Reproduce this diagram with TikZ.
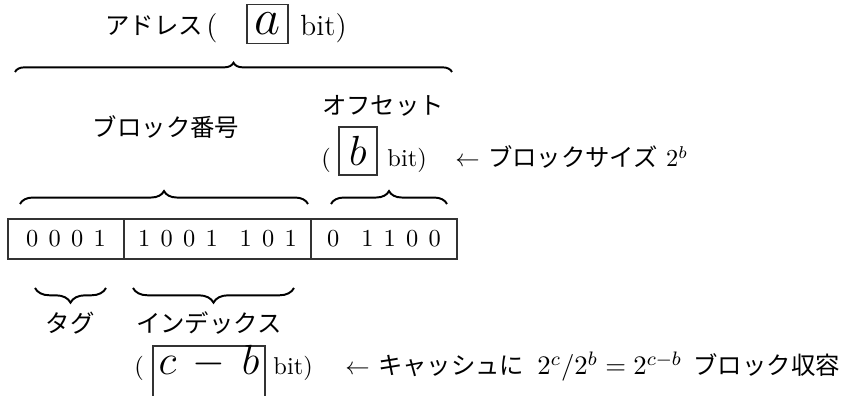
\documentclass[tikz,border=0pt]{standalone}
\usepackage{fontspec}
\newfontfamily\cjk{Noto Sans CJK JP}
\usetikzlibrary{decorations.pathreplacing}
\newcommand{\dgap}{\hspace{4.2pt}}
\newcommand{\dgapw}{\hspace{9pt}}
\begin{document}
\begin{tikzpicture}[x=0.41pt,y=-0.41pt,
  jlbl/.style={inner sep=0pt, anchor=base, font=\cjk},
  jlblw/.style={inner sep=0pt, anchor=base west, font=\cjk},
  tlbl/.style={inner sep=0pt, anchor=base},
  tlblw/.style={inner sep=0pt, anchor=base west},
  varbox/.style={draw=black!80, line width=0.45pt, inner sep=0pt, font=\LARGE},
  bigvar/.style={inner sep=0pt, font=\LARGE},
  cellbox/.style={draw=black!80, line width=0.45pt, inner sep=0pt, minimum height=16.4pt},
  bracedraw/.style={decorate, line width=0.8pt},
]
\useasboundingbox (0,0) rectangle (844,396);

% --- address line
\node[jlbl] (addr) at (154,35) {アドレス};
\node[tlbl, font=\large] (lpa) at (212,36) {(};
\node[varbox, font=\huge, minimum width=16.81pt, minimum height=16pt] (abox) at (267.5,24) {$a$};
\node[tlblw, font=\large] (bita) at (300,36) {bit)};
\draw[bracedraw, decoration={brace, amplitude=3.8pt}] (15,72) -- (452,72);

% --- block number / offset labels
\node[jlbl] (bnum) at (166,137) {ブロック番号};
\node[jlbl] (offs) at (383,115) {オフセット};
\node[tlbl] (lpb) at (326,167) {(};
\node[varbox, minimum width=15.58pt, minimum height=19.68pt] (bbox) at (358,151) {$b$};
\node[tlblw] (bitb) at (387,167) {bit)};
\node[tlblw] (bsize) at (455,167) {$\leftarrow$ {\cjk ブロックサイズ} $2^b$};

\draw[bracedraw, decoration={brace, amplitude=5.3pt}] (20,204) -- (308,204);
\draw[bracedraw, decoration={brace, amplitude=5.3pt}] (331,204) -- (447,204);

% --- address bits
\node[cellbox, minimum width=47.56pt] (tagc) at (66,239) {0\dgap0\dgap0\dgap1};
\node[cellbox, minimum width=76.67pt] (idxc) at (217.5,239) {1\dgap0\dgap0\dgap1\dgapw1\dgap0\dgap1};
\node[cellbox, minimum width=59.86pt] (offc) at (384,239) {0\dgapw1\dgap1\dgap0\dgap0};

% --- tag / index braces
\draw[bracedraw, decoration={brace, amplitude=6pt}] (106,288) -- (35,288);
\draw[bracedraw, decoration={brace, amplitude=6pt}] (294,288) -- (133,288);
\node[jlbl] (tagl) at (70,333) {タグ};
\node[jlbl] (idxl) at (209,333) {インデックス};

% --- index bits line
\node[tlbl] (lpc) at (139,375) {(};
\node[varbox, minimum width=45.92pt, minimum height=23.78pt] (cbbox) at (209,375) {};
\node[bigvar, anchor=base] (cbval) at (209,375) {$c\,-\,b$};
\node[tlblw] (bitc) at (273,375) {bit)};
\node[tlblw] (cache) at (345,375) {$\leftarrow$ {\cjk キャッシュに}};
\node[inner sep=0pt, anchor=base west, font=\fontsize{10.95}{13}\selectfont] (eqn) at (537,375) {$2^c/2^b=2^{c-b}$};
\node[jlblw] (blks) at (693,375) {ブロック収容};
\end{tikzpicture}
\end{document}
